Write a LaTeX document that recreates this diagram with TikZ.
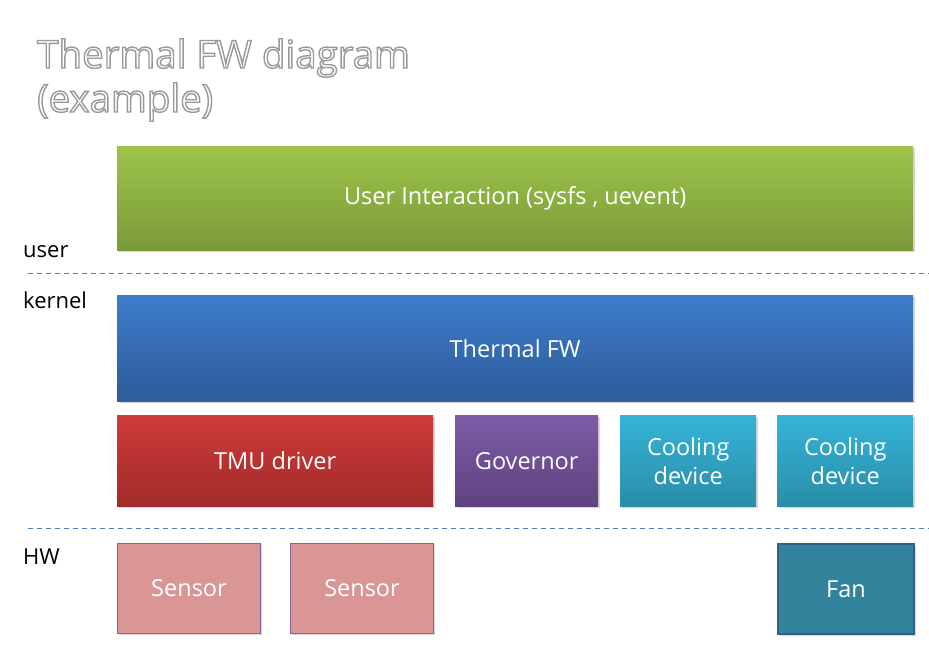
\documentclass[tikz,border=0pt]{standalone}
\usepackage{fontspec}
\setmainfont{Open Sans}
\usetikzlibrary{shadows}
\definecolor{linkblue}{HTML}{4A7EBB}
\definecolor{greentop}{RGB}{157,196,74}
\definecolor{greenbot}{RGB}{122,154,56}
\definecolor{bluetop}{RGB}{61,124,203}
\definecolor{bluebot}{RGB}{45,92,154}
\definecolor{redtop}{RGB}{207,59,58}
\definecolor{redbot}{RGB}{162,43,42}
\definecolor{purpletop}{RGB}{125,91,166}
\definecolor{purplebot}{RGB}{95,67,127}
\definecolor{cyantop}{RGB}{53,180,216}
\definecolor{cyanbot}{RGB}{42,141,168}
\definecolor{sensorfill}{RGB}{217,150,148}
\definecolor{sensorline}{RGB}{128,100,162}
\definecolor{fanfill}{RGB}{49,132,155}
\definecolor{fanline}{RGB}{56,93,138}
% hollow lettering: white fill with a grey stroke (PDF text render mode 2)
\newcommand{\hollowtext}[1]{\textcolor{white}{\special{pdf:literal direct 2 Tr 1.4 w 0.6 0.6 0.6 RG}#1\special{pdf:literal direct 0 Tr}}}
\tikzset{
  layerbox/.style={rectangle, anchor=north west, inner sep=0pt, text=white,
    font=\fontsize{23.5}{29}\selectfont, align=center,
    drop shadow={opacity=0.3, shadow xshift=1.5pt, shadow yshift=-1.5pt}},
  greenbox/.style={layerbox, top color=greentop, bottom color=greenbot},
  bluebox/.style={layerbox, top color=bluetop, bottom color=bluebot},
  redbox/.style={layerbox, top color=redtop, bottom color=redbot},
  purplebox/.style={layerbox, top color=purpletop, bottom color=purplebot},
  cyanbox/.style={layerbox, top color=cyantop, bottom color=cyanbot},
  sensorbox/.style={layerbox, fill=sensorfill, draw=sensorline, line width=1pt},
  fanbox/.style={layerbox, fill=fanfill, draw=fanline, line width=2pt},
  divider/.style={draw=linkblue, line width=1pt, dash pattern=on 5pt off 4pt},
  layerlabel/.style={anchor=base west, inner sep=0pt, font=\fontsize{22}{24}\selectfont, text=black},
  titleline/.style={anchor=base west, inner sep=0pt, font=\fontsize{38.5}{44}\selectfont}
}
\begin{document}
\begin{tikzpicture}[x=1pt,y=-1pt]
  \useasboundingbox[fill=white] (0,0) rectangle (929,658);

  % title
  \node[titleline] (title1) at (37,68) {\hollowtext{Thermal FW diagram}};
  \node[titleline] (title2) at (37,112) {\hollowtext{(example)}};

  % user space
  \node[greenbox, minimum width=796pt, minimum height=104pt] (ui) at (117,146)
    {User Interaction (sysfs , uevent)};
  \node[layerlabel] (user) at (23,257) {user};

  \coordinate (d1a) at (28,273);
  \coordinate (d1b) at (929,273);
  \draw[divider] (d1a) -- (d1b);

  % kernel space
  \node[layerlabel] (kernel) at (23,308) {kernel};
  \node[bluebox, minimum width=796pt, minimum height=106pt] (fw) at (117,295)
    {Thermal FW};
  \node[redbox, minimum width=316pt, minimum height=91pt] (tmu) at (117,415)
    {TMU driver};
  \node[purplebox, minimum width=143pt, minimum height=91pt] (gov) at (455,415)
    {Governor};
  \node[cyanbox, minimum width=136pt, minimum height=91pt] (cool1) at (620,415)
    {Cooling\\device};
  \node[cyanbox, minimum width=136pt, minimum height=91pt] (cool2) at (777,415)
    {Cooling\\device};

  \coordinate (d2a) at (28,528);
  \coordinate (d2b) at (929,528);
  \draw[divider] (d2a) -- (d2b);

  % hardware
  \node[layerlabel] (hw) at (23,564) {HW};
  \node[sensorbox, minimum width=143pt, minimum height=90pt] (s1) at (117,543)
    {Sensor};
  \node[sensorbox, minimum width=143pt, minimum height=90pt] (s2) at (290,543)
    {Sensor};
  \node[fanbox, minimum width=136pt, minimum height=90pt] (fan) at (777,543)
    {Fan};
\end{tikzpicture}
\end{document}
